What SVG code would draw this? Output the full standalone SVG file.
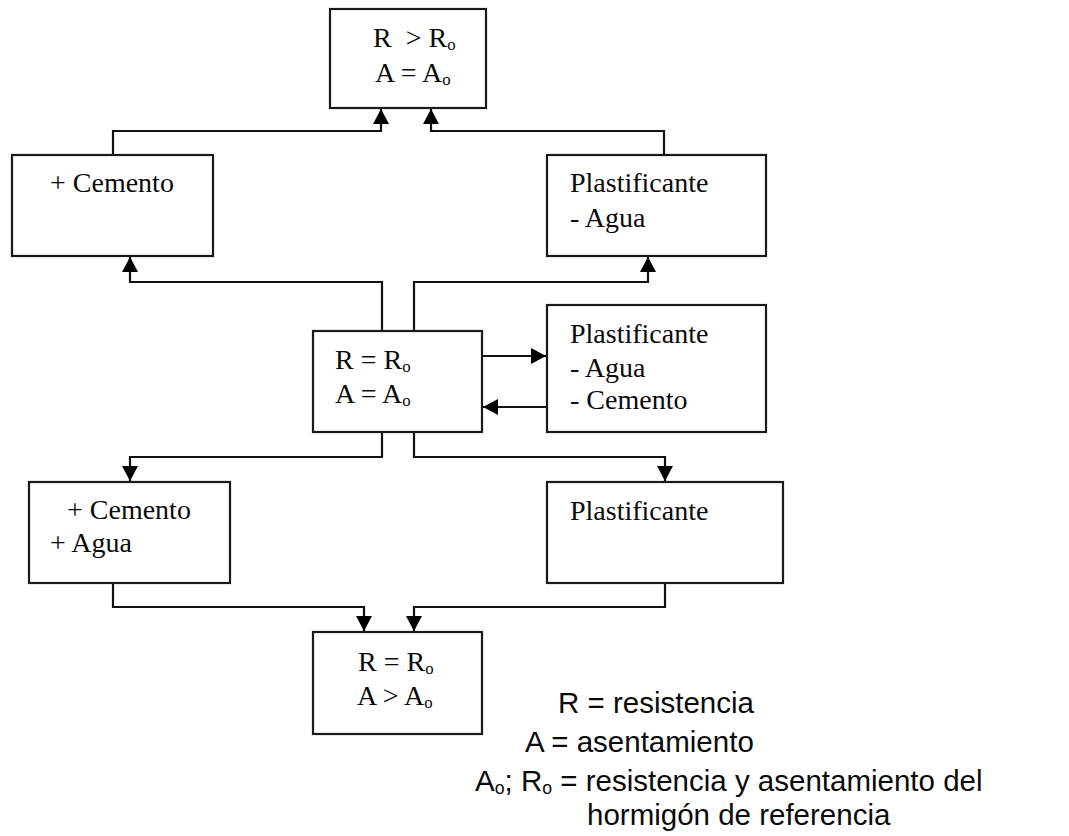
<svg xmlns="http://www.w3.org/2000/svg" width="1069" height="836" viewBox="0 0 1069 836">
<style>
.box{fill:#fff;stroke:#1a1a1a;stroke-width:2.2}
.t{font-family:"Liberation Serif","Times New Roman",serif;font-size:28px;fill:#0a0a0a}
.lg{font-family:"Liberation Sans",Arial,sans-serif;font-size:29.5px;fill:#0a0a0a}
.c{fill:none;stroke:#111;stroke-width:2.2}
.s{font-size:60%}
</style>
<defs>
<marker id="ah" markerUnits="userSpaceOnUse" markerWidth="15" markerHeight="16" refX="15" refY="8" orient="auto">
<path d="M0,0 L15,8 L0,16 z" fill="#000"/>
</marker>
</defs>
<rect width="1069" height="836" fill="#fff"/>
<g id="connectors">
<path class="c" d="M113,155 V131 H381 V109" marker-end="url(#ah)"/>
<path class="c" d="M664,155 V131 H431 V109" marker-end="url(#ah)"/>
<path class="c" d="M382,331 V282 H130 V257" marker-end="url(#ah)"/>
<path class="c" d="M414,331 V282 H648 V257" marker-end="url(#ah)"/>
<path class="c" d="M482,356 H546" marker-end="url(#ah)"/>
<path class="c" d="M547,407 H483" marker-end="url(#ah)"/>
<path class="c" d="M382,432 V457 H130 V481" marker-end="url(#ah)"/>
<path class="c" d="M414,432 V457 H665 V481" marker-end="url(#ah)"/>
<path class="c" d="M113,583 V607 H364 V631" marker-end="url(#ah)"/>
<path class="c" d="M665,583 V607 H414 V631" marker-end="url(#ah)"/>
</g>
<g id="n-top">
<rect class="box" x="330" y="9" width="156" height="99"/>
<text class="t" x="373" y="47">R&#160; &gt; R<tspan class="s" dy="3">o</tspan></text>
<text class="t" x="375" y="82">A = A<tspan class="s" dy="3">o</tspan></text>
</g>
<g id="n-cemento">
<rect class="box" x="12" y="155" width="201" height="101"/>
<text class="t" x="50" y="192">+ Cemento</text>
</g>
<g id="n-plast-agua">
<rect class="box" x="547" y="155" width="219" height="101"/>
<text class="t" x="570" y="192">Plastificante</text>
<text class="t" x="570" y="227">- Agua</text>
</g>
<g id="n-mid">
<rect class="box" x="313" y="331" width="169" height="101"/>
<text class="t" x="335" y="369">R = R<tspan class="s" dy="3">o</tspan></text>
<text class="t" x="335" y="403">A = A<tspan class="s" dy="3">o</tspan></text>
</g>
<g id="n-plast-agua-cem">
<rect class="box" x="547" y="305" width="219" height="127"/>
<text class="t" x="570" y="343">Plastificante</text>
<text class="t" x="570" y="377">- Agua</text>
<text class="t" x="570" y="409">- Cemento</text>
</g>
<g id="n-cem-agua">
<rect class="box" x="29" y="482" width="201" height="101"/>
<text class="t" x="67" y="519">+ Cemento</text>
<text class="t" x="50" y="552">+ Agua</text>
</g>
<g id="n-plast">
<rect class="box" x="547" y="482" width="236" height="101"/>
<text class="t" x="570" y="520">Plastificante</text>
</g>
<g id="n-bottom">
<rect class="box" x="313" y="632" width="169" height="102"/>
<text class="t" x="358" y="671">R = R<tspan class="s" dy="3">o</tspan></text>
<text class="t" x="357" y="705">A &gt; A<tspan class="s" dy="3">o</tspan></text>
</g>
<g id="legend">
<text class="lg" x="558" y="713">R = resistencia</text>
<text class="lg" x="525" y="752">A = asentamiento</text>
<text class="lg" x="475" y="791">A<tspan class="s" dy="3">o</tspan><tspan dy="-3">; R</tspan><tspan class="s" dy="3">o</tspan><tspan dy="-3"> = resistencia y asentamiento del</tspan></text>
<text class="lg" x="587" y="825">hormigón de referencia</text>
</g>
</svg>
